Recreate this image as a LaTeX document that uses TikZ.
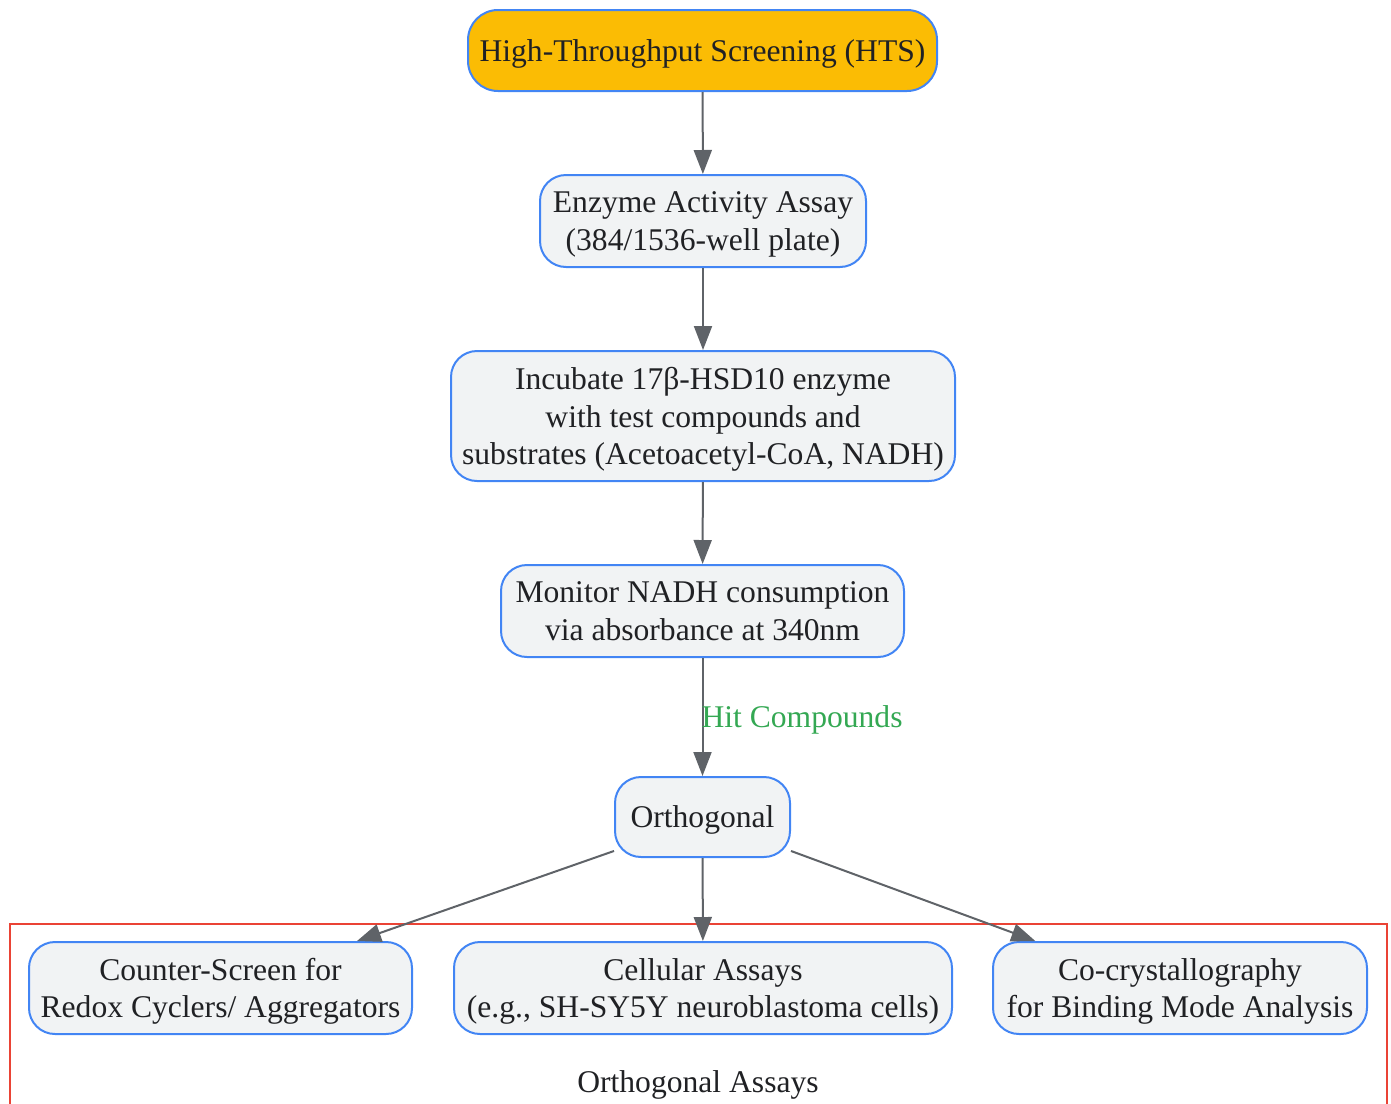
\documentclass[tikz,border=0pt]{standalone}
\usepackage{fontspec}
\setmainfont{Liberation Serif}
\usetikzlibrary{arrows.meta}
\definecolor{stepfill}{HTML}{F1F3F4}
\definecolor{stepline}{HTML}{4285F4}
\definecolor{htsfill}{HTML}{FBBC04}
\definecolor{edgegray}{HTML}{5F6368}
\definecolor{hitgreen}{HTML}{34A853}
\definecolor{groupred}{HTML}{EA4335}
\definecolor{textdark}{HTML}{202124}
\begin{document}
\begin{tikzpicture}[x=1pt, y=-1pt,
    font=\fontsize{31.6}{37.5}\selectfont,
    every node/.append style={text depth=-4pt},
    stepbox/.style={draw=stepline, line width=2pt, fill=stepfill, rounded corners=26pt,
        text=textdark, align=center, inner sep=0pt},
    flow/.style={draw=edgegray, line width=2pt, -{Triangle[length=24pt, width=18pt]}}]
    \useasboundingbox (0,0) rectangle (1391,1103);
    % group of orthogonal assays
    \draw[groupred, line width=2pt] (10,924) rectangle (1387,1115);
    \node[text=textdark] (grouplabel) at (698,1082) {Orthogonal Assays};
    % main flow
    \node[stepbox, fill=htsfill, rounded corners=30pt, minimum width=469pt, minimum height=81pt] (hts) at (702.5,50.5) {High-Throughput Screening (HTS)};
    \node[stepbox, minimum width=326pt, minimum height=92pt] (enzyme) at (703,221) {Enzyme Activity Assay\\(384/1536-well plate)};
    \node[stepbox, minimum width=504pt, minimum height=130pt] (incubate) at (703,416) {Incubate 17β-HSD10 enzyme\\with test compounds and\\substrates (Acetoacetyl-CoA, NADH)};
    \node[stepbox, minimum width=403pt, minimum height=92pt] (monitor) at (702.5,611) {Monitor NADH consumption\\via absorbance at 340nm};
    \node[stepbox, minimum width=175pt, minimum height=80pt] (orth) at (702.5,817) {Orthogonal};
    \node[stepbox, minimum width=383pt, minimum height=92pt] (counter) at (220.5,988) {Counter-Screen for\\Redox Cyclers/ Aggregators};
    \node[stepbox, minimum width=498pt, minimum height=92pt] (cellular) at (703,988) {Cellular Assays\\(e.g., SH-SY5Y neuroblastoma cells)};
    \node[stepbox, minimum width=374pt, minimum height=92pt] (cocryst) at (1180,988) {Co-crystallography\\for Binding Mode Analysis};
    \path (hts) edge[flow] (enzyme);
    \path (enzyme) edge[flow] (incubate);
    \path (incubate) edge[flow] (monitor);
    \path (monitor) edge[flow] node[right, inner sep=0pt, xshift=-2pt, text=hitgreen] {Hit Compounds} (orth);
    \path (orth.201) edge[flow] (counter.19.5);
    \path (orth) edge[flow] (cellular);
    \path (orth.339) edge[flow] (cocryst.162.5);
\end{tikzpicture}
\end{document}
